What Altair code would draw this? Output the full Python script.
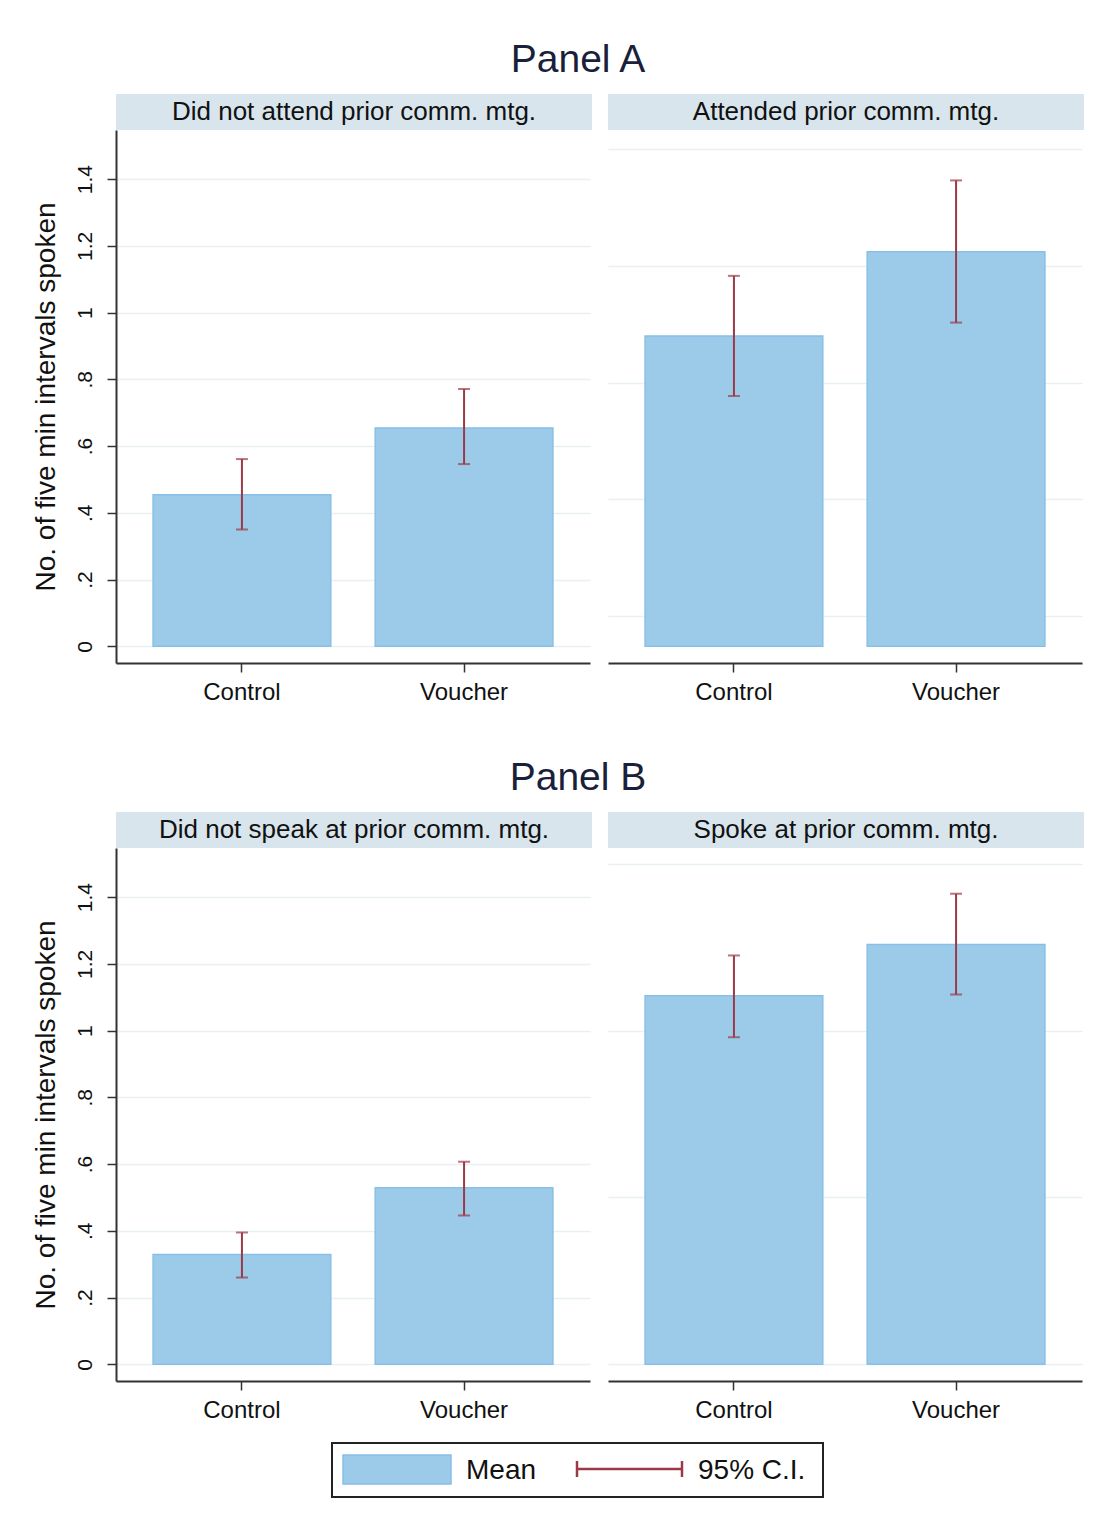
import altair as alt
import pandas as pd

groups = ["Control", "Voucher"]

# Panel A
a_left_mean = [0.454, 0.654]
a_left_lo = [0.350, 0.546]
a_left_hi = [0.561, 0.771]
a_right_mean = [0.930, 1.182]
a_right_lo = [0.750, 0.970]
a_right_hi = [1.110, 1.396]
# Panel B
b_left_mean = [0.329, 0.529]
b_left_lo = [0.260, 0.446]
b_left_hi = [0.395, 0.607]
b_right_mean = [1.104, 1.258]
b_right_lo = [0.980, 1.108]
b_right_hi = [1.225, 1.410]

panel_titles = ["Panel A", "Panel B"]
strip_labels_a = ["Did not attend prior comm. mtg.", "Attended prior comm. mtg."]
strip_labels_b = ["Did not speak at prior comm. mtg.", "Spoke at prior comm. mtg."]
y_ticks = [0, 0.2, 0.4, 0.6, 0.8, 1.0, 1.2, 1.4]
right_grid_a = [0.09, 0.44, 0.79, 1.14, 1.49]
right_grid_b = [0, 0.5, 1.0, 1.5]
legend_labels = ["Mean", "95% C.I."]
y_title = "No. of five min intervals spoken"

FONT = "Liberation Sans"
BAR_FILL = "#9ccbea"
BAR_STROKE = "#88bfe6"
CI_COLOR = "#9b3a46"
STRIP_FILL = "#d8e5ec"
GRID = "#e9f0f3"
AXIS = "#333333"
TXT = "#111111"
PW = 474
PH = 533

label_expr = ("datum.value == 0 ? '0' : (datum.value < 1 ? "
              "substring(format(datum.value, '.1f'), 1) : format(datum.value, '.1~f'))")


def subpanel(mean, lo, hi, strip, left, grid_vals):
    df = pd.DataFrame({"group": groups, "mean": mean, "lo": lo, "hi": hi,
                       "zero": [0.0] * len(groups)})
    xscale = alt.Scale(paddingInner=0.2, paddingOuter=0.167)
    yscale = alt.Scale(domain=[-0.05, 1.547], nice=False, zero=False)
    xaxis = alt.Axis(title=None, labelAngle=0, labelFontSize=24, labelColor=TXT,
                     labelPadding=8, tickSize=9, tickWidth=1.5, tickColor=AXIS,
                     domainColor=AXIS, domainWidth=2, grid=False, labelFont=FONT)
    if left:
        yaxis = alt.Axis(title=y_title, values=y_ticks, labelExpr=label_expr,
                         labelAngle=270, labelAlign="center", labelBaseline="bottom",
                         labelFontSize=21, labelColor=TXT, labelPadding=12,
                         tickSize=9, tickWidth=1.5, tickColor=AXIS,
                         domainColor=AXIS, domainWidth=2,
                         grid=True, gridColor=GRID, gridWidth=1.5,
                         titleFontSize=28, titleFontWeight="normal", titleColor=TXT,
                         titlePadding=14, titleFont=FONT, labelFont=FONT)
    else:
        yaxis = alt.Axis(title=None, values=grid_vals, labels=False, ticks=False,
                         domain=False, grid=True, gridColor=GRID, gridWidth=1.5)
    x = alt.X("group:N", scale=xscale, sort=groups, axis=xaxis)
    base = alt.Chart(df)
    bars = base.mark_bar(fill=BAR_FILL, stroke=BAR_STROKE, strokeWidth=1.5).encode(
        x=x, y=alt.Y("mean:Q", scale=yscale, axis=yaxis), y2="zero:Q")
    rule = base.mark_rule(color=CI_COLOR, strokeWidth=2).encode(
        x=alt.X("group:N", sort=groups), y="lo:Q", y2="hi:Q")
    cap_hi = base.mark_tick(orient="horizontal", size=12, thickness=2, color=CI_COLOR).encode(
        x=alt.X("group:N", sort=groups), y="hi:Q")
    cap_lo = base.mark_tick(orient="horizontal", size=12, thickness=2, color=CI_COLOR).encode(
        x=alt.X("group:N", sort=groups), y="lo:Q")
    sdf = pd.DataFrame({"label": [strip]})
    srect = alt.Chart(sdf).mark_rect(fill=STRIP_FILL).encode(
        x=alt.value(0), x2=alt.value(PW + 2), y=alt.value(-36), y2=alt.value(0))
    stext = alt.Chart(sdf).mark_text(fontSize=26, font=FONT, color=TXT, align="center",
                                     baseline="middle").encode(
        x=alt.value((PW + 2) / 2), y=alt.value(-18), text="label:N")
    return alt.layer(bars, rule, cap_hi, cap_lo, srect, stext).properties(width=PW, height=PH)


def panel(title, strips, lm, llo, lhi, rm, rlo, rhi, rgrid):
    left = subpanel(lm, llo, lhi, strips[0], True, None)
    right = subpanel(rm, rlo, rhi, strips[1], False, rgrid)
    return alt.hconcat(left, right, spacing=16).properties(
        title=alt.TitleParams(title, fontSize=39, font=FONT, fontWeight="normal",
                              color="#1a1f3a", anchor="middle", offset=14, dx=20))


row_a = panel(panel_titles[0], strip_labels_a, a_left_mean, a_left_lo, a_left_hi,
              a_right_mean, a_right_lo, a_right_hi, right_grid_a)
row_b = panel(panel_titles[1], strip_labels_b, b_left_mean, b_left_lo, b_left_hi,
              b_right_mean, b_right_lo, b_right_hi, right_grid_b)

# legend (drawn box), positions relative to the plot-area left edge
OX = 116
ldf = pd.DataFrame({"label": [legend_labels[0]]})
cdf = pd.DataFrame({"label": [legend_labels[1]]})
box = alt.Chart(ldf).mark_rect(filled=False, stroke="#222222", strokeWidth=2).encode(
    x=alt.value(332 - OX), x2=alt.value(823 - OX), y=alt.value(0), y2=alt.value(54))
swatch = alt.Chart(ldf).mark_rect(fill=BAR_FILL, stroke=BAR_STROKE, strokeWidth=1.5).encode(
    x=alt.value(343 - OX), x2=alt.value(451 - OX), y=alt.value(12), y2=alt.value(41))
mean_txt = alt.Chart(ldf).mark_text(fontSize=28, font=FONT, color=TXT, align="left",
                                    baseline="middle").encode(
    x=alt.value(466 - OX), y=alt.value(28), text="label:N")
ci_line = alt.Chart(cdf).mark_rule(color=CI_COLOR, strokeWidth=2.5).encode(
    x=alt.value(577 - OX), x2=alt.value(682 - OX), y=alt.value(26))
ci_cap1 = alt.Chart(cdf).mark_rule(color=CI_COLOR, strokeWidth=2.5).encode(
    x=alt.value(577 - OX), y=alt.value(18), y2=alt.value(34))
ci_cap2 = alt.Chart(cdf).mark_rule(color=CI_COLOR, strokeWidth=2.5).encode(
    x=alt.value(682 - OX), y=alt.value(18), y2=alt.value(34))
ci_txt = alt.Chart(cdf).mark_text(fontSize=28, font=FONT, color=TXT, align="left",
                                  baseline="middle").encode(
    x=alt.value(698 - OX), y=alt.value(28), text="label:N")
legend = alt.layer(box, swatch, mean_txt, ci_line, ci_cap1, ci_cap2, ci_txt).properties(
    width=720, height=56)

panels = alt.vconcat(row_a, row_b, spacing=55)
chart = alt.vconcat(panels, legend, spacing=20).properties(
    padding={"left": 23, "top": 33, "right": 5, "bottom": 5}
).configure(font=FONT, background="white").configure_view(
    stroke="transparent", strokeWidth=0)

chart.save("out.html", embed_options={"renderer": "svg", "actions": False})
